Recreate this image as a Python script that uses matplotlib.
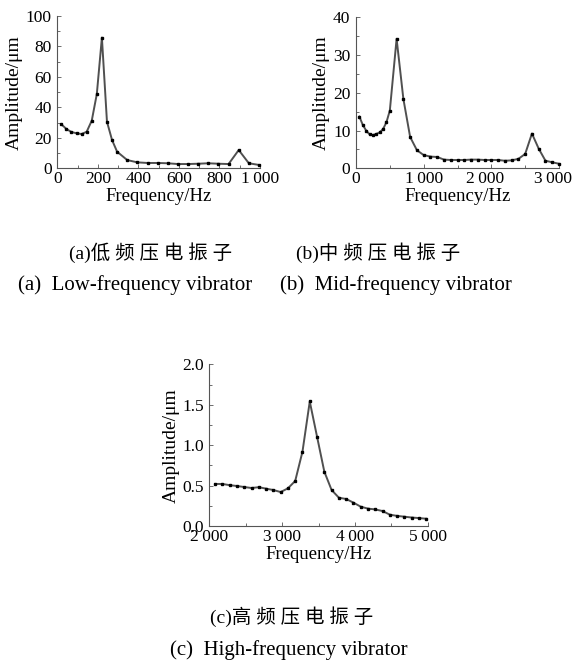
import numpy as np
import matplotlib
matplotlib.use('Agg')
import matplotlib.pyplot as plt
import matplotlib.transforms as mtransforms
from matplotlib.ticker import MultipleLocator

plt.rcParams['font.family'] = ['Liberation Serif', 'Noto Sans CJK SC']

# (a) low-frequency vibrator
freqA = [20, 45, 70, 95, 120, 145, 170, 195, 220, 245, 270, 295, 345, 395, 445,
         495, 545, 595, 645, 695, 745, 795, 845, 895, 945, 995]
ampA = [28.9, 25.8, 23.8, 23.0, 22.5, 24.0, 31.3, 48.8, 85.8, 30.6, 18.6, 10.9, 5.4,
        3.9, 3.5, 3.5, 3.3, 2.8, 2.8, 3.0, 3.3, 3.0, 2.8, 12.0, 3.3, 2.2]

# (b) mid-frequency vibrator
freqB = [50, 100, 150, 200, 250, 300, 350, 400, 450, 500, 600, 700, 800, 900, 1000,
         1100, 1200, 1300, 1400, 1500, 1600, 1700, 1800, 1900, 2000, 2100, 2200, 2300,
         2400, 2500, 2600, 2700, 2800, 2900, 3000]
ampB = [13.7, 11.5, 10.0, 9.0, 8.8, 9.1, 9.5, 10.4, 12.2, 15.3, 34.3, 18.4, 8.3, 4.8,
        3.5, 3.1, 3.0, 2.3, 2.2, 2.2, 2.2, 2.3, 2.3, 2.2, 2.2, 2.2, 2.0, 2.1, 2.5, 3.8,
        9.2, 5.2, 2.0, 1.6, 1.2]

# (c) high-frequency vibrator
freqC = [2080, 2180, 2280, 2380, 2480, 2580, 2680, 2780, 2880, 2980, 3080, 3180, 3280,
         3380, 3480, 3580, 3680, 3780, 3880, 3980, 4080, 4180, 4280, 4380, 4480, 4580,
         4680, 4780, 4880, 4980]
ampC = [0.52, 0.52, 0.505, 0.495, 0.482, 0.47, 0.48, 0.462, 0.445, 0.42, 0.466, 0.557,
        0.92, 1.54, 1.105, 0.672, 0.445, 0.35, 0.334, 0.289, 0.239, 0.215, 0.205, 0.185,
        0.14, 0.125, 0.115, 0.105, 0.098, 0.09]

captions = [('(a)低 频 压 电 振 子', '(a)  Low-frequency vibrator'),
            ('(b)中 频 压 电 振 子', '(b)  Mid-frequency vibrator'),
            ('(c)高 频 压 电 振 子', '(c)  High-frequency vibrator')]

W, H = 575, 664
fig = plt.figure(figsize=(W / 100, H / 100), dpi=100)


def make_ax(l, r, t, b):
    return fig.add_axes([l / W, 1 - b / H, (r - l) / W, (b - t) / H])


def style(ax, x, y, xlim, ylim, xmaj, xmin, ymaj, ymin, xlabels, yfmt):
    ax.plot(x, y, color='#505050', lw=1.4, marker='s', ms=2.1,
            mfc='black', mec='black', clip_on=False)
    ax.set_xlim(*xlim)
    ax.set_ylim(*ylim)
    for s in ['top', 'right']:
        ax.spines[s].set_visible(False)
    for s in ['left', 'bottom']:
        ax.spines[s].set_color('#555555')
        ax.spines[s].set_linewidth(0.8)
    ax.xaxis.set_minor_locator(MultipleLocator(xmin))
    ax.yaxis.set_minor_locator(MultipleLocator(ymin))
    ticks = np.arange(xlim[0], xlim[1] + 1, xmaj)
    ax.set_xticks(ticks)
    ax.set_xticklabels(xlabels)
    yt = np.arange(ylim[0], ylim[1] + ymaj / 2, ymaj)
    ax.set_yticks(yt)
    ax.set_yticklabels([yfmt.format(v) for v in yt])
    ax.tick_params(which='both', direction='in', color='#555555', width=0.6,
                   labelsize=12.5)
    ax.tick_params(axis='y', pad=4)
    ax.tick_params(axis='x', pad=2)
    ax.tick_params(which='major', length=3)
    ax.tick_params(which='minor', length=2)
    ax.set_xlabel('Frequency/Hz', fontsize=13.5, labelpad=1)
    ax.set_ylabel('Amplitude/μm', fontsize=14, labelpad=2)


axA = make_ax(57.3, 260, 16, 168.3)
style(axA, freqA, ampA, (0, 1000), (0, 100), 200, 100, 20, 10,
      ['0', '200', '400', '600', '800', '1\u2009000'], '{:.0f}')

axB = make_ax(356, 559, 17.3, 168.3)
style(axB, freqB, ampB, (0, 3000), (0, 40), 1000, 500, 10, 5,
      ['0', '1\u2009000', '2\u2009000', '3\u2009000'], '{:.0f}')
# nudge the right-hand tick labels left a little, as in the original
for lab in axB.get_xticklabels()[2:]:
    lab.set_transform(lab.get_transform() +
                      mtransforms.ScaledTranslation(-6 / 100, 0, fig.dpi_scale_trans))

axC = make_ax(209.3, 427.7, 364.3, 526)
style(axC, freqC, ampC, (2000, 5000), (0, 2.0), 1000, 500, 0.5, 0.25,
      ['2\u2009000', '3\u2009000', '4\u2009000', '5\u2009000'], '{:.1f}')

pos = [((151, 253), (135, 285)), ((378, 253), (396, 285)), ((292, 617), (289, 650))]
for (cn, en), ((xc, yc), (xe, ye)) in zip(captions, pos):
    fig.text(xc / W, 1 - yc / H, cn, ha='center', va='center', fontsize=14)
    fig.text(xe / W, 1 - ye / H, en, ha='center', va='center', fontsize=15)

fig.savefig('out.png', dpi=100)
